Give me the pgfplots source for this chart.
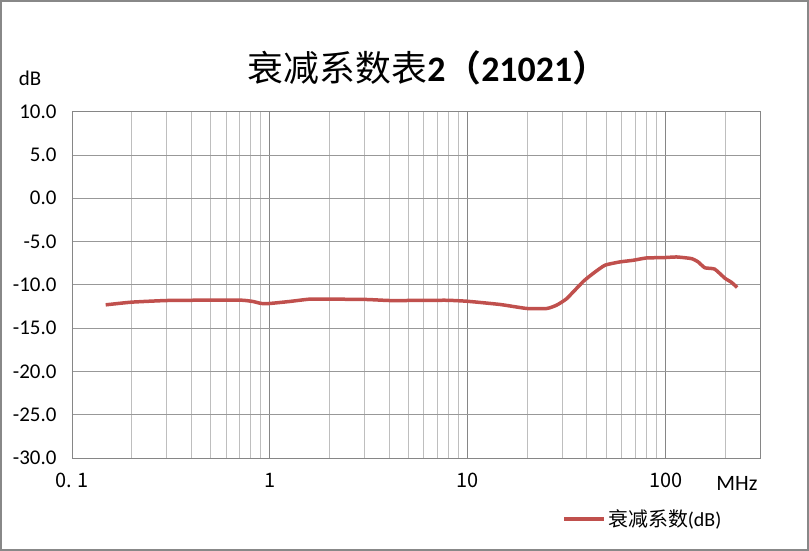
\documentclass[border=0pt]{standalone}
\usepackage{pgfplots}
\pgfplotsset{compat=1.18}
\usepackage{fontspec}
\setmainfont{Carlito}[BoldFont=Carlito Bold]
\newfontfamily\cjk{Noto Sans CJK SC}
\newfontfamily\cjkbold{Noto Sans CJK SC Bold}
\newfontfamily\titledigits{Carlito Bold}
\definecolor{seriesred}{RGB}{192,80,77}
\definecolor{majgrid}{RGB}{134,134,134}
\definecolor{mingrid}{RGB}{190,190,190}
\definecolor{framegray}{RGB}{136,136,136}

\begin{document}
\begin{tikzpicture}
\useasboundingbox (0,0) rectangle (809bp,551bp);
\draw[framegray, line width=2bp] (1bp,1bp) rectangle (808bp,550bp);

% title
\node at (428bp,483bp) {\fontsize{36}{40}\selectfont{\cjk 衰减系数表}{\titledigits 2}{\cjkbold （}{\titledigits 21021}{\cjkbold ）}};
\node at (30bp,473bp) {\fontsize{21}{24}\selectfont dB};
\node at (737bp,68bp) {\fontsize{22}{25}\selectfont MHz};

\begin{axis}[
    at={(72bp,93bp)}, anchor=south west,
    scale only axis,
    width=688bp, height=346.3bp,
    xmode=log, log basis x=10,
    xmin=0.1, xmax=300,
    ymin=-30, ymax=10,
    ytick={-30,-25,...,10},
    xtick={0.1,1,10,100},
    minor xtick={0.2,0.3,0.4,0.5,0.6,0.7,0.8,0.9,2,3,4,5,6,7,8,9,20,30,40,50,60,70,80,90,200,300},
    xticklabels={0. 1,1,10,100},
    /pgf/number format/assume math mode=true,
    yticklabel={\pgfmathprintnumber[fixed,fixed zerofill,precision=1]{\tick}},
    yticklabel style={font=\fontsize{21}{24}\selectfont, xshift=-12bp},
    xticklabel style={font=\cjk\fontsize{20}{23}\selectfont, yshift=-12bp},
    major tick length=0pt, minor tick length=0pt,
    xmajorgrids, xminorgrids, ymajorgrids,
    major grid style={majgrid, line width=0.8bp},
    minor grid style={mingrid, line width=0.8bp},
    y grid style={mingrid!80!black, line width=0.8bp},
    axis line style={majgrid, line width=0.8bp},
    legend style={at={(axis description cs:0.713,-0.176)}, anchor=west,
        draw=none, fill=none, inner sep=0pt,
        font=\fontsize{20}{23}\selectfont},
    legend image code/.code={\draw[#1, line width=3.5bp] (0bp,0bp) -- (40bp,0bp);},
]
\addplot[seriesred, line width=3.5bp, smooth, tension=0.3] coordinates {
(0.148,-12.31) (0.2,-12.0) (0.3,-11.81) (0.477,-11.77) (0.716,-11.77)
(0.82,-11.92) (0.904,-12.15) (1.0,-12.15) (1.26,-11.92) (1.59,-11.65)
(2.0,-11.65) (3.07,-11.69) (4.02,-11.81) (5.7,-11.8) (7.83,-11.78)
(10,-11.9) (14.6,-12.27) (19.9,-12.73) (25.1,-12.73) (28.1,-12.35)
(31.6,-11.6) (38.4,-9.6) (43.1,-8.67) (49.4,-7.73) (58.8,-7.35)
(68.7,-7.16) (80.2,-6.89) (97.3,-6.86) (113.6,-6.78) (135.3,-6.97)
(146,-7.35) (158,-8.03) (177,-8.18) (199.6,-9.24) (215,-9.7) (230,-10.3)
};
\addlegendentry{{\cjk 衰减系数}(dB)}
\end{axis}
\end{tikzpicture}
\end{document}
